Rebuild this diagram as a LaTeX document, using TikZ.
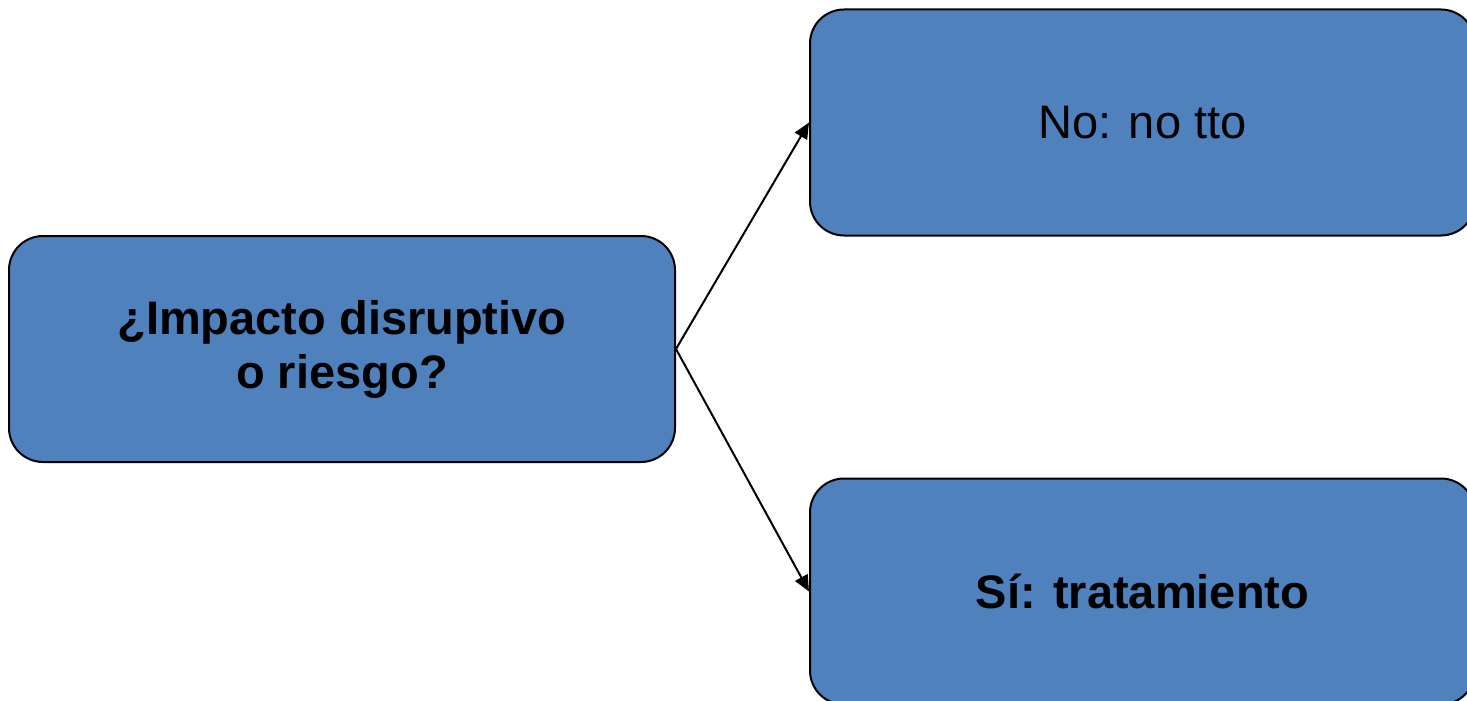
\documentclass[tikz,border=0pt]{standalone}
\usepackage{fontspec}
\setmainfont{Liberation Sans}
\usetikzlibrary{arrows.meta}
\definecolor{boxblue}{HTML}{4F81BD}
\tikzset{
  box/.style={draw=black, line width=1pt, fill=boxblue, rounded corners=17pt,
    minimum width=#1, minimum height=113pt, inner sep=0pt, align=center,
    font=\fontsize{23.5pt}{27pt}\selectfont},
  box/.default=333pt,
  conn/.style={line width=1pt, -{Triangle[length=8pt,width=7pt]}}
}
\begin{document}
\begin{tikzpicture}
\useasboundingbox (0,0) rectangle (733.5pt,-350.5pt);
\clip (0,0) rectangle (733.5pt,-350.5pt);
\node[box=333pt] (L) at (171pt,-174.5pt) {\textbf{¿Impacto disruptivo}\\ \textbf{o riesgo?}};
\node[box=332.5pt] (T) at (571.25pt,-61.25pt) {No: no tto};
\node[box=332.5pt] (B) at (571.25pt,-295.75pt) {\textbf{Sí: tratamiento}};
\draw[conn] (L.east) -- (T.west);
\draw[conn] (L.east) -- (B.west);
\end{tikzpicture}
\end{document}
